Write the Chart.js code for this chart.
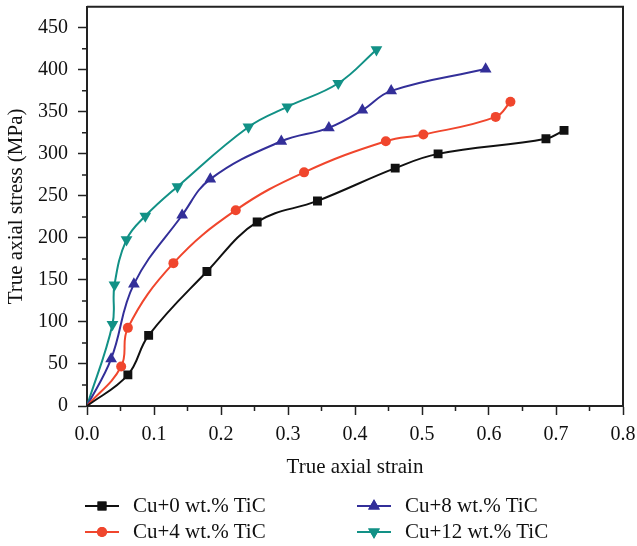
<!DOCTYPE html>
<html>
<head>
<meta charset="utf-8">
<title>True stress-strain curves</title>
<script src="https://cdn.jsdelivr.net/npm/chart.js"></script>
<style>
  body { margin: 0; background: #fff; }
  #wrap { position: relative; width: 637px; height: 546px; }
  .lg-icon { position: absolute; }
  .lg-text { position: absolute; font: 21px "Liberation Serif", "DejaVu Serif", serif; color: #111; line-height: 21px; white-space: nowrap; }
</style>
</head>
<body>
<div id="wrap">
  <canvas id="stressChart" width="637" height="546"></canvas>
  <div id="legend"></div>
</div>

<script>
// values (strain, stress in MPa); each curve starts at the origin
const seriesNames = ['Cu+0 wt.% TiC', 'Cu+4 wt.% TiC', 'Cu+8 wt.% TiC', 'Cu+12 wt.% TiC'];

const strain0 = [0, 0.061, 0.092, 0.179, 0.254, 0.344, 0.460, 0.524, 0.685, 0.712];
const stress0 = [0, 37, 84, 160, 219, 244, 283, 300, 318, 328];

const strain4 = [0, 0.051, 0.061, 0.129, 0.222, 0.324, 0.446, 0.502, 0.610, 0.632];
const stress4 = [0, 47, 93, 170, 233, 278, 315, 323, 344, 362];

const strain8 = [0, 0.036, 0.070, 0.142, 0.184, 0.290, 0.361, 0.411, 0.454, 0.595];
const stress8 = [0, 56, 145, 227, 270, 315, 331, 352, 375, 401];

const strain12 = [0, 0.038, 0.041, 0.059, 0.087, 0.135, 0.241, 0.299, 0.375, 0.432];
const stress12 = [0, 97, 144, 198, 226, 261, 332, 356, 384, 424];

const xTicks = [0, 0.1, 0.2, 0.3, 0.4, 0.5, 0.6, 0.7, 0.8];
const yTicks = [0, 50, 100, 150, 200, 250, 300, 350, 400, 450];

Chart.defaults.font.family = '"Liberation Serif", "DejaVu Serif", serif';
Chart.defaults.color = '#111';

function toPoints(xs, ys) {
    return xs.map((x, i) => ({ x: x, y: ys[i] }));
}

function makeSet(label, xs, ys, color, style, radius, rotation) {
    return {
        label: label,
        data: toPoints(xs, ys),
        borderColor: color,
        backgroundColor: color,
        borderWidth: 2,
        pointStyle: style,
        pointRotation: rotation || 0,
        pointRadius: ctx => ctx.dataIndex === 0 ? 0 : radius,
        pointBorderWidth: 0,
        tension: 0.4,
        fill: false
    };
}

// minor ticks (halfway between the labelled ones) and the top/right frame
const framePlugin = {
    id: 'framePlugin',
    afterDraw(chart) {
        const { ctx, chartArea, scales } = chart;
        const x = scales.x, y = scales.y;
        ctx.save();
        ctx.strokeStyle = '#222';
        ctx.lineWidth = 1.5;
        ctx.beginPath();
        for (let i = 0; i < xTicks.length - 1; i++) {
            const px = x.getPixelForValue((xTicks[i] + xTicks[i + 1]) / 2);
            ctx.moveTo(px, chartArea.bottom);
            ctx.lineTo(px, chartArea.bottom + 5);
        }
        for (let i = 0; i < yTicks.length - 1; i++) {
            const py = y.getPixelForValue((yTicks[i] + yTicks[i + 1]) / 2);
            ctx.moveTo(chartArea.left, py);
            ctx.lineTo(chartArea.left - 5, py);
        }
        ctx.stroke();
        ctx.lineWidth = 2;
        ctx.beginPath();
        ctx.moveTo(chartArea.left, chartArea.top);
        ctx.lineTo(chartArea.right, chartArea.top);
        ctx.lineTo(chartArea.right, chartArea.bottom);
        ctx.stroke();
        ctx.restore();
    }
};

const ctx = document.getElementById('stressChart').getContext('2d');
const stressChart = new Chart(ctx, {
    type: 'line',
    data: {
        datasets: [
            makeSet(seriesNames[0], strain0, stress0, '#111111', 'rect', 6.3),
            makeSet(seriesNames[1], strain4, stress4, '#f0462d', 'circle', 5),
            makeSet(seriesNames[2], strain8, stress8, '#332f99', 'triangle', 6.8),
            makeSet(seriesNames[3], strain12, stress12, '#129186', 'triangle', 6.8, 180)
        ]
    },
    options: {
        responsive: false,
        animation: false,
        layout: { padding: { top: 6, right: 14, bottom: 66, left: 0 } },
        plugins: {
            legend: { display: false },
            tooltip: { enabled: false }
        },
        scales: {
            x: {
                type: 'linear',
                min: 0,
                max: 0.8,
                afterBuildTicks: s => { s.ticks = xTicks.map(v => ({ value: v })); },
                ticks: { padding: 8, font: { size: 20 }, maxRotation: 0,
                         callback: v => v.toFixed(1) },
                grid: { drawOnChartArea: false, tickLength: 9, tickColor: '#222', tickWidth: 1.5 },
                border: { color: '#222', width: 2 },
                title: { display: true, text: 'True axial strain', font: { size: 21 }, padding: { top: 3, bottom: 0 } },
                afterFit: s => { s.height = 74; s.paddingLeft = 0; s.paddingRight = 0; }
            },
            y: {
                min: 0,
                max: 475,
                afterBuildTicks: s => { s.ticks = yTicks.map(v => ({ value: v })); },
                ticks: { padding: 10, font: { size: 20 } },
                grid: { drawOnChartArea: false, tickLength: 9, tickColor: '#222', tickWidth: 1.5 },
                border: { color: '#222', width: 2 },
                title: { display: true, text: 'True axial stress (MPa)', font: { size: 21 }, padding: { top: 4, bottom: 0 } },
                afterFit: s => { s.width = 87; s.paddingTop = 0; s.paddingBottom = 0; }
            }
        }
    },
    plugins: [framePlugin]
});

// two-column legend under the chart: line + marker, then the label
const legendSlots = [[85, 506], [85, 532], [357, 506], [357, 532]];
const legendBox = document.getElementById('legend');
stressChart.data.datasets.forEach((ds, i) => {
    const [lx, ly] = legendSlots[i];
    const icon = document.createElement('canvas');
    icon.width = 34; icon.height = 16;
    icon.className = 'lg-icon';
    icon.style.left = lx + 'px';
    icon.style.top = (ly - 8) + 'px';
    const ictx = icon.getContext('2d');
    ictx.strokeStyle = ds.borderColor;
    ictx.lineWidth = 2;
    ictx.beginPath();
    ictx.moveTo(0, 8);
    ictx.lineTo(34, 8);
    ictx.stroke();
    ictx.fillStyle = ds.backgroundColor;
    Chart.helpers.drawPoint(ictx, {
        pointStyle: ds.pointStyle,
        rotation: ds.pointRotation,
        radius: ds.pointStyle === 'circle' ? 5 : (ds.pointStyle === 'rect' ? 6.3 : 6.8),
        borderWidth: 0
    }, 17, 8);
    ictx.fill();
    legendBox.appendChild(icon);

    const txt = document.createElement('div');
    txt.className = 'lg-text';
    txt.textContent = ds.label;
    txt.style.left = (lx + 48) + 'px';
    txt.style.top = (ly - 11) + 'px';
    legendBox.appendChild(txt);
});
</script>
</body>
</html>
